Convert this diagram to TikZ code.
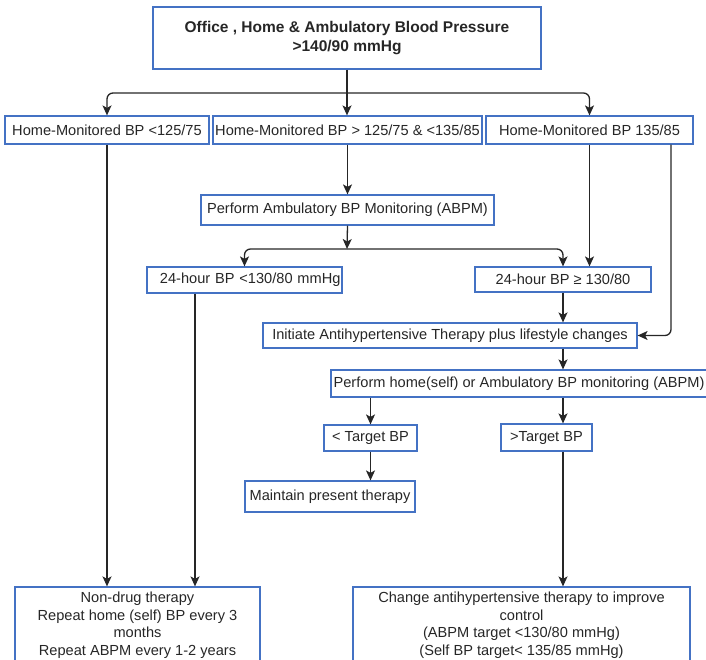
\documentclass[tikz,border=0pt]{standalone}
\usepackage{fontspec}
\setmainfont{Liberation Sans}
\usetikzlibrary{arrows.meta}
\definecolor{boxblue}{RGB}{68,114,196}
\definecolor{linegray}{RGB}{38,38,38}

\begin{document}
\begin{tikzpicture}[x=1pt,y=-1pt,
  box/.style={draw=boxblue, line width=1.2pt, inner sep=0pt, align=center, text=black!85, font=\fontsize{14.6}{17.5}\selectfont},
  flow/.style={draw=linegray, line width=1.3pt, -{Stealth[length=10pt,width=9pt,inset=2.5pt]}},
  flowturn/.style={flow, rounded corners=6pt}]
\useasboundingbox (0,0) rectangle (706,660);
\clip (0,0) rectangle (706,660);

\node[box, minimum width=388, minimum height=62, font=\fontsize{15.5}{19.5}\selectfont\bfseries] (top) at (347,38) {Office , Home \& Ambulatory Blood Pressure\\>140/90 mmHg};

\node[box, minimum width=204, minimum height=28] (hA) at (107,130) {Home-Monitored BP <125/75};
\node[box, minimum width=269, minimum height=28] (hB) at (347.5,130) {Home-Monitored BP > 125/75 \& <135/85};
\node[box, minimum width=207, minimum height=28] (hC) at (589.5,130) {Home-Monitored BP 135/85};

\node[box, minimum width=293, minimum height=30] (abpm) at (347.5,210) {Perform Ambulatory BP Monitoring (ABPM)};

\node[box, minimum width=195, minimum height=26, text width=192, align=right] (d24a) at (244.5,280) {24-hour BP <130/80 mmHg};
\node[box, minimum width=176, minimum height=25] (d24b) at (563,279.5) {24-hour BP ≥ 130/80};

\node[box, minimum width=374, minimum height=25] (init) at (450,335.5) {Initiate Antihypertensive Therapy plus lifestyle changes};
\node[box, minimum width=376, minimum height=27] (perf) at (519,383.5) {Perform home(self) or Ambulatory BP monitoring (ABPM)};

\node[box, minimum width=93, minimum height=26] (lt) at (370.5,438) {< Target BP};
\node[box, minimum width=91, minimum height=27] (gt) at (546.5,437.5) {>Target BP};
\node[box, minimum width=170, minimum height=31] (keep) at (330,496.5) {Maintain present therapy};

\node[box, minimum width=245, minimum height=76] (nondrug) at (137.5,625) {Non-drug therapy\\Repeat home (self) BP every 3\\months\\Repeat ABPM every 1-2 years};
\node[box, minimum width=337, minimum height=76] (change) at (521.5,625) {Change antihypertensive therapy to improve\\control\\(ABPM target <130/80 mmHg)\\(Self BP target< 135/85 mmHg)};

\coordinate (j1) at (347,93);
\coordinate (j2) at (347,249);
\coordinate (hCout) at ([xshift=81.5pt]hC.south);
\coordinate (d24aout) at ([xshift=-49.5pt]d24a.south);

\draw[flow] (top.south) -- (top.south |- hB.north);
\draw[flowturn] (j1) -| (hA.north);
\draw[flowturn] (j1) -| (hC.north);
\draw[flow] (hA.south) -- (hA.south |- nondrug.north);
\draw[flow] (hB.south) -- (hB.south |- abpm.north);
\draw[flow] (abpm.south) -- (j2);
\draw[flowturn] (j2) -| (d24a.north);
\draw[flowturn] (j2) -| (d24b.north);
\draw[flow] (hC.south) -- (hC.south |- d24b.north);
\draw[flowturn] (hCout) |- (init.east);
\draw[flow] (d24aout) -- (d24aout |- nondrug.north);
\draw[flow] (d24b.south) -- (d24b.south |- init.north);
\draw[flow] (d24b.south |- init.south) -- (d24b.south |- perf.north);
\draw[flow] (lt.north |- perf.south) -- (lt.north);
\draw[flow] (d24b.south |- perf.south) -- (d24b.south |- gt.north);
\draw[flow] (lt.south) -- (lt.south |- keep.north);
\draw[flow] (d24b.south |- gt.south) -- (d24b.south |- change.north);

\end{tikzpicture}
\end{document}
